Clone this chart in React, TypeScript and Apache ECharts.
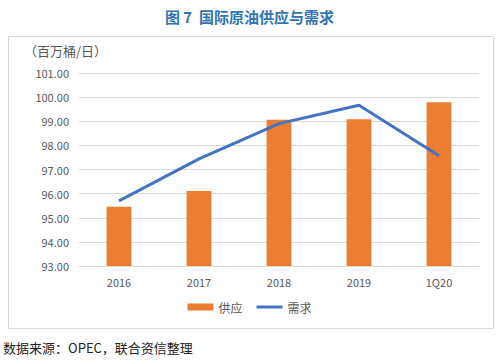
import React, { useEffect, useRef } from "react";
import * as echarts from "echarts";

const categories = ["2016", "2017", "2018", "2019", "1Q20"];
const supply = [95.46, 96.11, 99.06, 99.08, 99.79];
const demand = [95.7, 97.44, 98.9, 99.66, 97.57];
const titleText = "图 7  国际原油供应与需求";
const unitText = "（百万桶/日）";
const sourceText = "数据来源：OPEC，联合资信整理";

export default function App() {
  const ref = useRef<HTMLDivElement>(null);
  useEffect(() => {
    if (!ref.current) return;
    const chart = echarts.init(ref.current, undefined, { renderer: "svg" });
    const font = "'Noto Sans CJK SC', 'Noto Sans', sans-serif";
    chart.setOption({
      animation: false,
      backgroundColor: "#ffffff",
      textStyle: { fontFamily: font },
      title: {
        text: titleText,
        left: "center",
        top: 4,
        textStyle: { color: "#2f75b5", fontSize: 15, fontWeight: "bold", fontFamily: font },
      },
      graphic: [
        {
          type: "rect",
          shape: { x: 8.5, y: 36.5, width: 485, height: 292 },
          style: { fill: "none", stroke: "#d9d9d9", lineWidth: 1 },
          silent: true,
        },
        {
          type: "text",
          left: 24,
          top: 44,
          style: { text: unitText, fill: "#595959", fontSize: 13, fontFamily: font },
        },
        {
          type: "text",
          left: 3,
          top: 341,
          style: { text: sourceText, fill: "#222222", fontSize: 13, fontFamily: font },
        },
      ],
      legend: {
        bottom: 44,
        left: "center",
        itemGap: 14,
        itemWidth: 26,
        itemHeight: 7,
        textStyle: { color: "#595959", fontSize: 12, fontFamily: font },
        data: [
          { name: "供应", icon: "rect" },
          { name: "需求", icon: "path://M0,0 L26,0 L26,3 L0,3 Z" },
        ],
      },
      grid: { left: 79, right: 20, top: 73, bottom: 96 },
      xAxis: {
        type: "category",
        data: categories,
        axisLine: { show: true, lineStyle: { color: "#d9d9d9" } },
        axisTick: { show: false },
        axisLabel: { color: "#595959", fontSize: 11, margin: 10 },
      },
      yAxis: {
        type: "value",
        min: 93,
        max: 101,
        interval: 1,
        axisLine: { show: false },
        axisTick: { show: false },
        splitLine: { lineStyle: { color: "#d9d9d9" } },
        axisLabel: {
          color: "#595959",
          fontSize: 11,
          margin: 10,
          formatter: (v: number) => v.toFixed(2),
        },
      },
      series: [
        {
          name: "供应",
          type: "bar",
          data: supply,
          barWidth: "31%",
          itemStyle: { color: "#ed7d31" },
        },
        {
          name: "需求",
          type: "line",
          data: demand,
          showSymbol: false,
          symbol: "none",
          lineStyle: { color: "#4472c4", width: 3 },
          itemStyle: { color: "#4472c4" },
        },
      ],
    });
    return () => chart.dispose();
  }, []);
  return (
    <div
      ref={ref}
      style={{ position: "fixed", left: 0, top: 0, width: 499, height: 362 }}
    />
  );
}
